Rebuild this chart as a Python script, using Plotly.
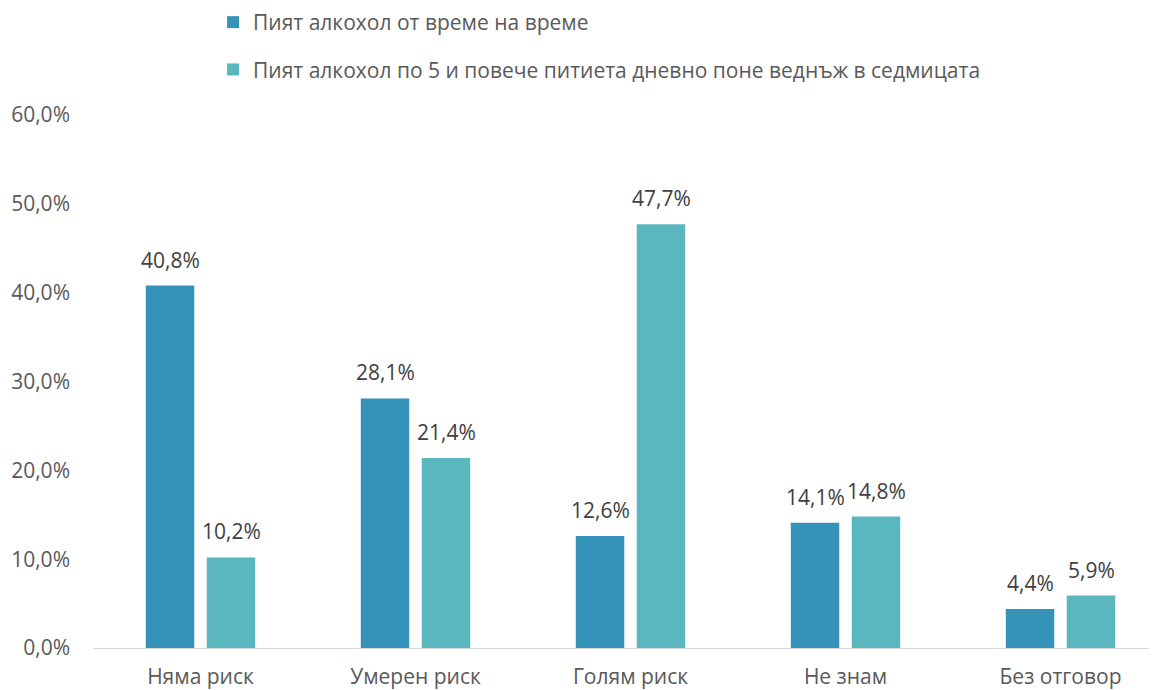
import plotly.graph_objects as go

categories = ["Няма риск", "Умерен риск", "Голям риск", "Не знам", "Без отговор"]
series_names = [
    "Пият алкохол от време на време",
    "Пият алкохол по 5 и повече питиета дневно поне веднъж в седмицата",
]
occasional = [40.8, 28.1, 12.6, 14.1, 4.4]
heavy = [10.2, 21.4, 47.7, 14.8, 5.9]
y_ticks = [0, 10, 20, 30, 40, 50, 60]

colors = ["#3593BA", "#5AB7C0"]
font_family = "Open Sans, Noto Sans, sans-serif"
fs = 21


def pct(v):
    return f"{v:.1f}%".replace(".", ",")


fig = go.Figure()
annotations = []
shifts = [-30.5, 30.5]
for i, (name, vals) in enumerate(zip(series_names, [occasional, heavy])):
    fig.add_trace(go.Bar(
        x=categories,
        y=vals,
        name=name,
        legendgroup=str(i),
        marker=dict(color=colors[i], line=dict(width=0)),
        hovertemplate="%{x}: %{y:.1f}%<extra></extra>",
    ))
    # value labels above bars
    for c, v in zip(categories, vals):
        annotations.append(dict(
            x=c, y=v, xref="x", yref="y",
            text=pct(v), showarrow=False,
            xshift=shifts[i], yshift=10,
            yanchor="bottom",
            font=dict(size=fs, color="#404040"),
        ))

fig.update_layout(
    width=1157,
    height=690,
    margin=dict(l=85, r=0, t=107, b=50, autoexpand=False),
    plot_bgcolor="white",
    paper_bgcolor="white",
    font=dict(family=font_family, size=fs, color="#595959"),
    barmode="group",
    bargap=0.433,
    bargroupgap=0.205,
    annotations=annotations,
    legend=dict(
        orientation="v",
        x=0.112,
        y=1.212,
        xanchor="left",
        yanchor="top",
        traceorder="grouped",
        tracegroupgap=17,
        font=dict(size=fs, color="#595959"),
        itemwidth=30,
    ),
    xaxis=dict(
        range=[-0.5, 4.486],
        showgrid=False,
        showline=True,
        linecolor="#D9D9D9",
        linewidth=1,
        ticks="",
        ticklabelstandoff=10,
        tickangle=0,
        tickfont=dict(size=fs, color="#595959"),
    ),
    yaxis=dict(
        range=[0, 60],
        tickvals=y_ticks,
        ticktext=[pct(v) for v in y_ticks],
        showgrid=False,
        zeroline=False,
        showline=False,
        ticks="",
        ticklabelstandoff=22,
        tickfont=dict(size=fs, color="#595959"),
    ),
)

fig.write_html("out.html")
